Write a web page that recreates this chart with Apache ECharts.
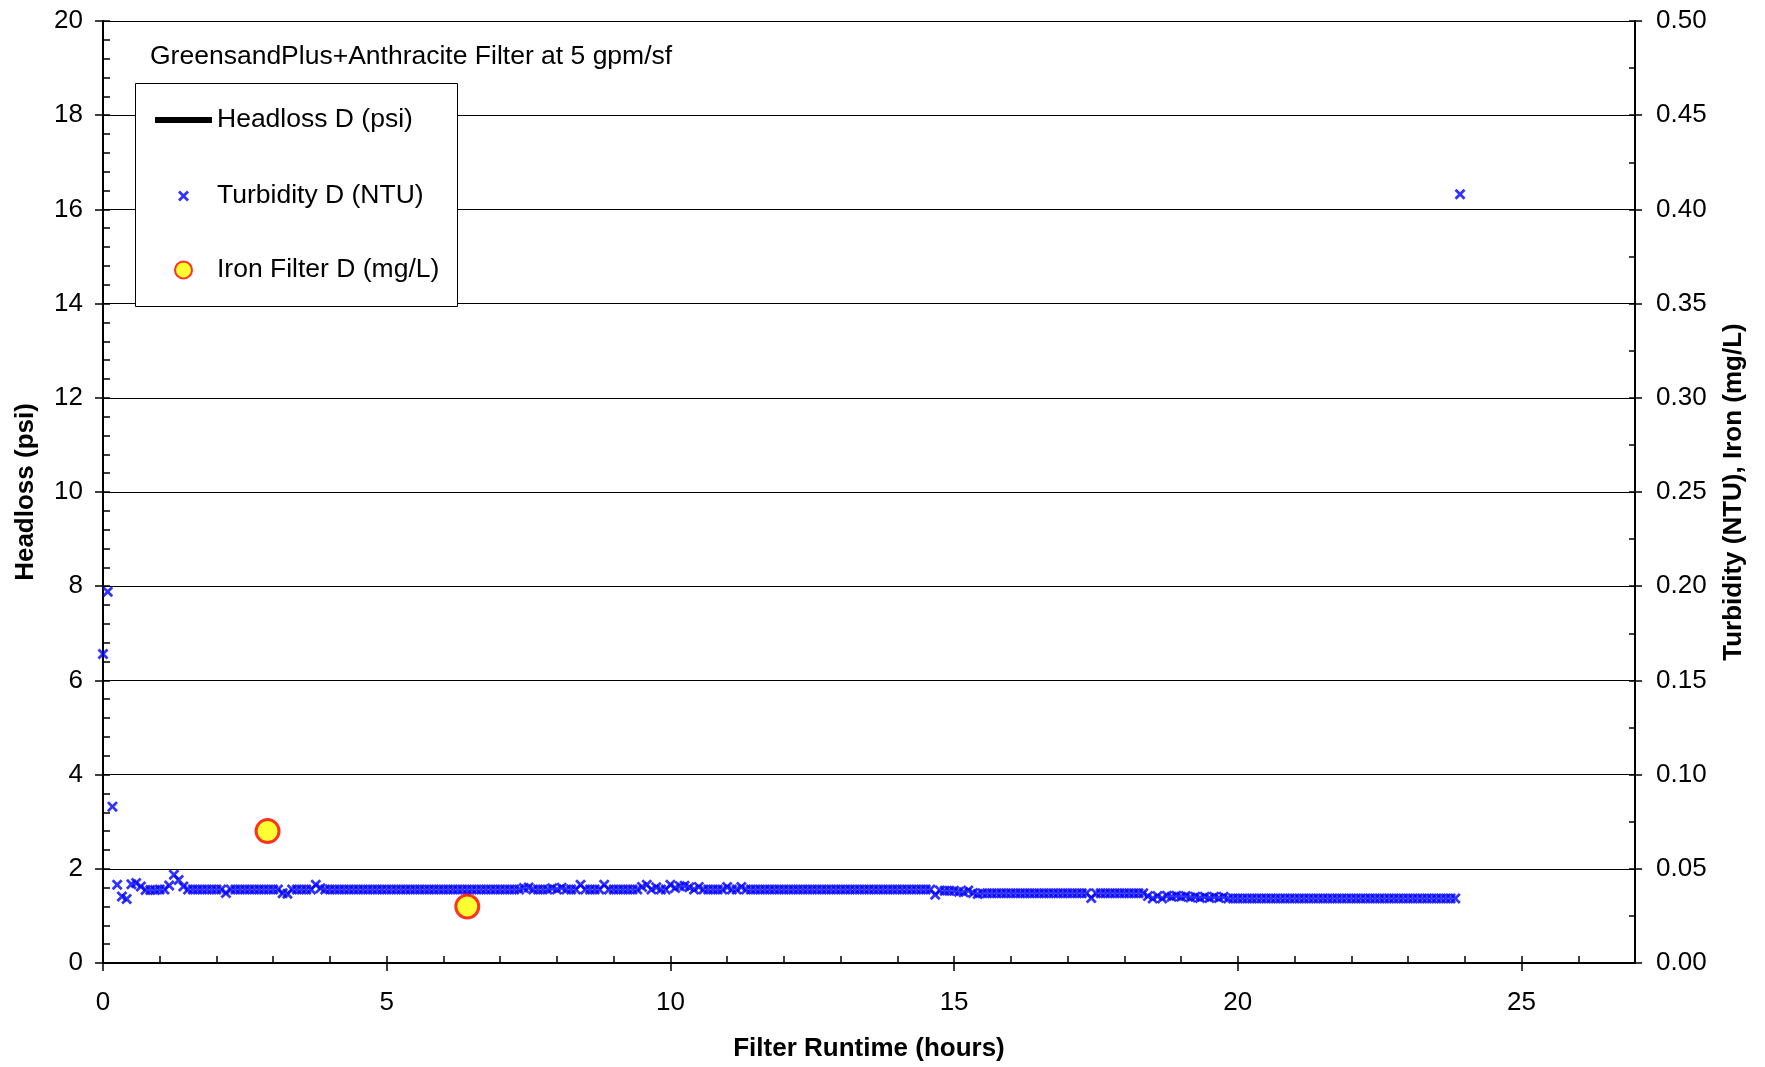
<!DOCTYPE html>
<html><head><meta charset="utf-8">
<script src="https://cdn.jsdelivr.net/npm/echarts@6/dist/echarts.min.js"></script>
<style>html,body{margin:0;padding:0;background:#fff}#c{width:1765px;height:1067px}</style>
</head><body><div id="c"></div>
<script>
// Filter runtime of each turbidity reading (minutes)
const runtimeMin = [
0,5,10,15,20,25,30,35,40,45,50,55,
60,65,70,75,80,85,90,95,100,105,110,115,
120,125,130,135,140,145,150,155,160,165,170,175,
180,185,190,195,200,205,210,215,220,225,230,235,
240,245,250,255,260,265,270,275,280,285,290,295,
300,305,310,315,320,325,330,335,340,345,350,355,
360,365,370,375,380,385,390,395,400,405,410,415,
420,425,430,435,440,445,450,455,460,465,470,475,
480,485,490,495,500,505,510,515,520,525,530,535,
540,545,550,555,560,565,570,575,580,585,590,595,
600,605,610,615,620,625,630,635,640,645,650,655,
660,665,670,675,680,685,690,695,700,705,710,715,
720,725,730,735,740,745,750,755,760,765,770,775,
780,785,790,795,800,805,810,815,820,825,830,835,
840,845,850,855,860,865,870,875,880,885,890,895,
900,905,910,915,920,925,930,935,940,945,950,955,
960,965,970,975,980,985,990,995,1000,1005,1010,1015,
1020,1025,1030,1035,1040,1045,1050,1055,1060,1065,1070,1075,
1080,1085,1090,1095,1100,1105,1110,1115,1120,1125,1130,1135,
1140,1145,1150,1155,1160,1165,1170,1175,1180,1185,1190,1195,
1200,1205,1210,1215,1220,1225,1230,1235,1240,1245,1250,1255,
1260,1265,1270,1275,1280,1285,1290,1295,1300,1305,1310,1315,
1320,1325,1330,1335,1340,1345,1350,1355,1360,1365,1370,1375,
1380,1385,1390,1395,1400,1405,1410,1415,1420,1425,1430,1435
];
// Turbidity D (NTU)
const turbidityNTU = [
.164,.197,.083,.0415,.0353,.034,.0418,.0424,.0406,.0388,.0388,.0388,
.039,.039,.0411,.0468,.0441,.0406,.039,.039,.039,.039,.039,.039,
.039,.039,.0371,.039,.039,.039,.039,.039,.039,.039,.039,.039,
.039,.039,.037,.0368,.039,.039,.039,.039,.039,.0415,.0397,.039,
.039,.039,.039,.039,.039,.039,.039,.039,.039,.039,.039,.039,
.039,.039,.039,.039,.039,.039,.039,.039,.039,.039,.039,.039,
.039,.039,.039,.039,.039,.039,.039,.039,.039,.039,.039,.039,
.039,.039,.039,.039,.039,.0398,.0401,.039,.039,.039,.039,.0397,
.039,.0399,.039,.039,.039,.0415,.039,.039,.039,.039,.0415,.039,
.039,.039,.039,.039,.039,.039,.0404,.0415,.039,.0402,.039,.039,
.0415,.0398,.0408,.041,.0402,.039,.0404,.039,.039,.039,.039,.039,
.0403,.039,.039,.0403,.039,.039,.039,.039,.039,.039,.039,.039,
.039,.039,.039,.039,.039,.039,.039,.039,.039,.039,.039,.039,
.039,.039,.039,.039,.039,.039,.039,.039,.039,.039,.039,.039,
.039,.039,.039,.039,.039,.039,.039,.039,.0362,.0385,.0383,.0383,
.0383,.0378,.0375,.0385,.0372,.0366,.037,.037,.037,.037,.037,.037,
.037,.037,.037,.037,.037,.037,.037,.037,.037,.037,.037,.037,
.037,.037,.037,.037,.037,.0345,.037,.037,.037,.037,.037,.037,
.037,.037,.037,.037,.037,.0355,.0343,.0355,.0343,.0357,.0352,.0357,
.0352,.0356,.0348,.0352,.0345,.0352,.0345,.0352,.0345,.0352,.0343,.0343,
.0343,.0343,.0343,.0343,.0343,.0343,.0343,.0343,.0343,.0343,.0343,.0343,
.0343,.0343,.0343,.0343,.0343,.0343,.0343,.0343,.0343,.0343,.0343,.0343,
.0343,.0343,.0343,.0343,.0343,.0343,.0343,.0343,.0343,.0343,.0343,.0343,
.0343,.0343,.0343,.0343,.0343,.0343,.0343,.0343,.0343,.0343,.0343,.408
];
// Iron Filter D (mg/L)
const ironHours = [2.9, 6.42];
const ironMgL = [0.07, 0.03];
// Headloss D (psi) - no readings shown
const headlossHours = [];
const headlossPsi = [];

const FF = "'Liberation Sans', Arial, Helvetica, sans-serif";
const X_ICON = 'path://M0,1.8L1.8,0L5,3.2L8.2,0L10,1.8L6.8,5L10,8.2L8.2,10L5,6.8L1.8,10L0,8.2L3.2,5Z';
const turbData = runtimeMin.map((m, i) => [m / 60, turbidityNTU[i]]);
const ironData = ironHours.map((h, i) => [h, ironMgL[i]]);
const headData = headlossHours.map((h, i) => [h, headlossPsi[i]]);

const lbl = {fontSize: 26, color: '#000', fontFamily: FF};
const nameStyle = {fontSize: 26, fontWeight: 'bold', color: '#000', fontFamily: FF};
const blk = {color: '#000', width: 1.5};
const legText = {fontSize: 26.5, color: '#000', fontFamily: FF, lineHeight: 30};

const chart = echarts.init(document.getElementById('c'), null, {renderer: 'canvas'});
chart.setOption({
  animation: false,
  backgroundColor: '#fff',
  textStyle: {fontFamily: FF},
  title: {text: 'GreensandPlus+Anthracite Filter at 5 gpm/sf', left: 150, top: 42, padding: 0,
    textStyle: {fontFamily: FF, fontSize: 26.5, fontWeight: 'normal', color: '#000', lineHeight: 30}},
  grid: {left: 103, right: 130, top: 21, bottom: 102, containLabel: false},
  graphic: [{type: 'rect', z: 3, shape: {x: 135.5, y: 83.5, width: 322, height: 223},
    style: {fill: '#fff', stroke: '#000', lineWidth: 1}}],
  legend: [
    {data: [{name: 'Headloss D (psi)', icon: 'path://M0 0H57V6H0Z'}], left: 155, top: 105, padding: 0,
      itemWidth: 57, itemHeight: 6, selectedMode: false, itemStyle: {borderWidth: 0}, textStyle: legText, z: 5},
    {data: [{name: 'Turbidity D (NTU)'}], left: 178, top: 181, padding: 0,
      itemWidth: 57, itemHeight: 11, selectedMode: false, textStyle: legText, z: 5},
    {data: [{name: 'Iron Filter D (mg/L)'}], left: 174, top: 255, padding: 0,
      itemWidth: 57, itemHeight: 17, selectedMode: false, textStyle: legText, z: 5}
  ],
  xAxis: [
    {type: 'value', min: 0, max: 27, interval: 5, position: 'bottom',
      axisLine: {show: true, onZero: false, lineStyle: {color: '#000', width: 2}},
      axisTick: {show: true, length: 8, lineStyle: blk},
      axisLabel: Object.assign({margin: 27, showMaxLabel: false}, lbl),
      splitLine: {show: false},
      name: 'Filter Runtime (hours)', nameLocation: 'middle', nameGap: 73, nameTextStyle: nameStyle},
    {type: 'value', min: 0, max: 27, interval: 1, position: 'bottom',
      axisLine: {show: false, onZero: false},
      axisTick: {show: true, inside: true, length: 7, lineStyle: blk},
      axisLabel: {show: false}, splitLine: {show: false}}
  ],
  yAxis: [
    {type: 'value', min: 0, max: 20, interval: 2, position: 'left',
      axisLine: {show: true, onZero: false, lineStyle: {color: '#000', width: 2}},
      axisTick: {show: true, length: 8, lineStyle: blk},
      axisLabel: Object.assign({margin: 20}, lbl),
      splitLine: {show: true, lineStyle: {color: '#000', width: 1}},
      name: 'Headloss (psi)', nameLocation: 'middle', nameGap: 64, nameTextStyle: nameStyle},
    {type: 'value', min: 0, max: 0.5, interval: 0.05, position: 'right',
      axisLine: {show: true, onZero: false, lineStyle: {color: '#000', width: 2}},
      axisTick: {show: true, length: 7, lineStyle: blk},
      axisLabel: Object.assign({margin: 21, formatter: v => v.toFixed(2)}, lbl),
      splitLine: {show: false},
      name: 'Turbidity (NTU), Iron (mg/L)', nameLocation: 'middle', nameGap: 86, nameTextStyle: nameStyle},
    {type: 'value', min: 0, max: 20, interval: 0.4, position: 'left',
      axisLine: {show: false, onZero: false},
      axisTick: {show: true, inside: true, length: 7, lineStyle: blk},
      axisLabel: {show: false}, splitLine: {show: false}},
    {type: 'value', min: 0, max: 0.5, interval: 0.025, position: 'right',
      axisLine: {show: false, onZero: false},
      axisTick: {show: true, inside: true, length: 6, lineStyle: blk},
      axisLabel: {show: false}, splitLine: {show: false}}
  ],
  series: [
    {name: 'Headloss D (psi)', type: 'line', xAxisIndex: 0, yAxisIndex: 0, data: headData,
      symbol: 'none', showSymbol: false, color: '#000', lineStyle: {color: '#000', width: 4}},
    {name: 'Turbidity D (NTU)', type: 'scatter', xAxisIndex: 0, yAxisIndex: 1, data: turbData,
      symbol: X_ICON, symbolSize: 11, itemStyle: {color: '#0000ff'}, z: 3},
    {name: 'Iron Filter D (mg/L)', type: 'scatter', xAxisIndex: 0, yAxisIndex: 1, data: ironData,
      symbol: 'circle', symbolSize: 23, itemStyle: {color: '#ffff00', borderColor: '#ff0000', borderWidth: 3}, z: 4}
  ]
});
</script>
</body></html>
